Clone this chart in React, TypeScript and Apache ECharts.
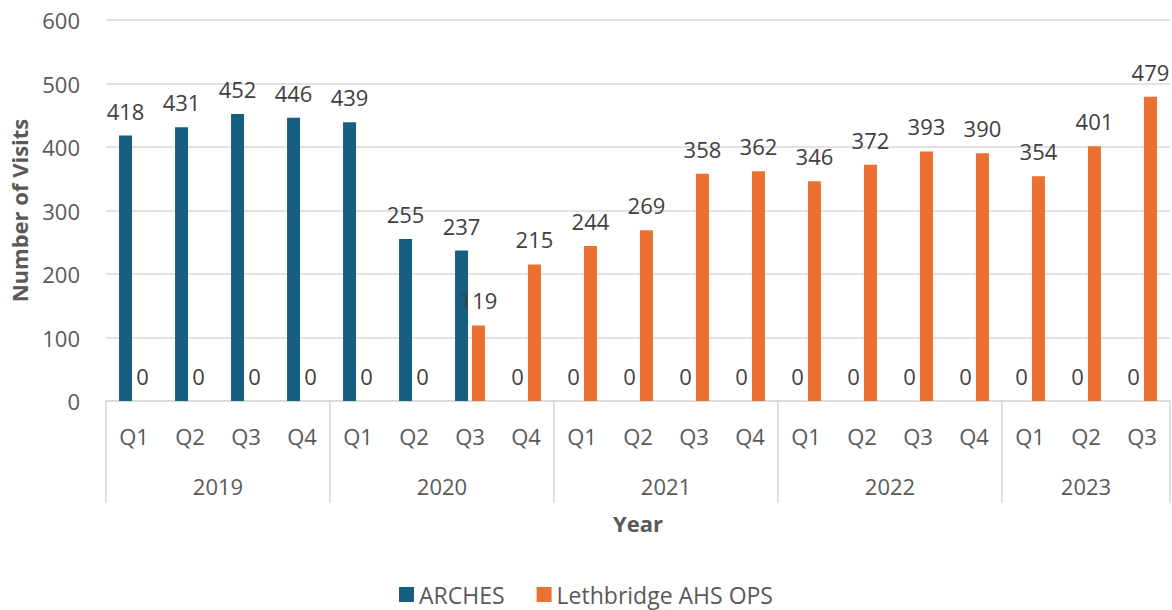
import React, { useEffect, useRef } from "react";
import * as echarts from "echarts";

const quarters = ["Q1","Q2","Q3","Q4","Q1","Q2","Q3","Q4","Q1","Q2","Q3","Q4","Q1","Q2","Q3","Q4","Q1","Q2","Q3"];
const years = ["2019", "2020", "2021", "2022", "2023"];
const yearCenters = [2, 6, 10, 14, 17.5];
const yearBounds = [0, 4, 8, 12, 16, 19];
const arches = [418, 431, 452, 446, 439, 255, 237, 0, 0, 0, 0, 0, 0, 0, 0, 0, 0, 0, 0];
const lethbridge = [0, 0, 0, 0, 0, 0, 119, 215, 244, 269, 358, 362, 346, 372, 393, 390, 354, 401, 479];

const FONT = "'Open Sans', 'Noto Sans', sans-serif";
const FS = 22;

export default function App() {
  const ref = useRef<HTMLDivElement>(null);
  useEffect(() => {
    document.body.style.margin = "0";
    const chart = echarts.init(ref.current!, undefined, { renderer: "svg" });
    const label = {
      show: true,
      position: "top",
      distance: 14,
      fontSize: FS,
      color: "#404040",
      fontFamily: FONT,
    };
    chart.setOption({
      animation: false,
      textStyle: { fontFamily: FONT },
      grid: { left: 106, right: 2, top: 20, bottom: 209, containLabel: false, outerBoundsMode: "none" },
      legend: {
        bottom: -1,
        left: "center",
        icon: "rect",
        itemWidth: 15,
        itemHeight: 15,
        itemGap: 32,
        textStyle: { fontSize: 23, color: "#595959", fontFamily: FONT },
        data: ["ARCHES", "Lethbridge AHS OPS"],
      },
      xAxis: [
        {
          type: "category",
          data: quarters,
          axisLine: { lineStyle: { color: "#d9d9d9", width: 1.5 } },
          axisTick: { show: false },
          axisLabel: { fontSize: FS, color: "#595959", margin: 24, fontFamily: FONT },
        },
        {
          type: "value",
          min: 0,
          max: 19,
          position: "bottom",
          splitLine: { show: false },
          axisLine: { show: false },
          axisTick: {
            show: true,
            customValues: yearBounds,
            length: 102,
            lineStyle: { color: "#d9d9d9", width: 1.5 },
          },
          axisLabel: {
            customValues: yearCenters,
            margin: 74,
            fontSize: FS,
            color: "#595959",
            fontFamily: FONT,
            formatter: (v: number) => years[yearCenters.indexOf(v)] ?? "",
          },
          name: "Year",
          nameLocation: "middle",
          nameGap: 111,
          nameTextStyle: { fontSize: FS, fontWeight: "bold", color: "#595959", fontFamily: FONT },
        },
      ],
      yAxis: {
        type: "value",
        min: 0,
        max: 600,
        interval: 100,
        axisLine: { show: false },
        axisTick: { show: false },
        splitLine: { lineStyle: { color: "#d9d9d9", width: 1.5 } },
        axisLabel: { fontSize: FS, color: "#595959", margin: 26, fontFamily: FONT },
        name: "Number of Visits",
        nameLocation: "middle",
        nameRotate: 90,
        nameGap: 76,
        nameTextStyle: { fontSize: FS, fontWeight: "bold", color: "#595959", fontFamily: FONT },
      },
      series: [
        {
          name: "ARCHES",
          type: "bar",
          data: arches,
          barWidth: 13,
          barGap: "30%",
          itemStyle: { color: "#175E80" },
          label,
        },
        {
          name: "Lethbridge AHS OPS",
          type: "bar",
          data: lethbridge,
          barWidth: 13,
          barGap: "30%",
          itemStyle: { color: "#EB7132" },
          label,
        },
      ],
    });
    return () => chart.dispose();
  }, []);
  return (
    <div
      ref={ref}
      style={{ position: "absolute", left: 0, top: 0, width: 1172, height: 610 }}
    />
  );
}
